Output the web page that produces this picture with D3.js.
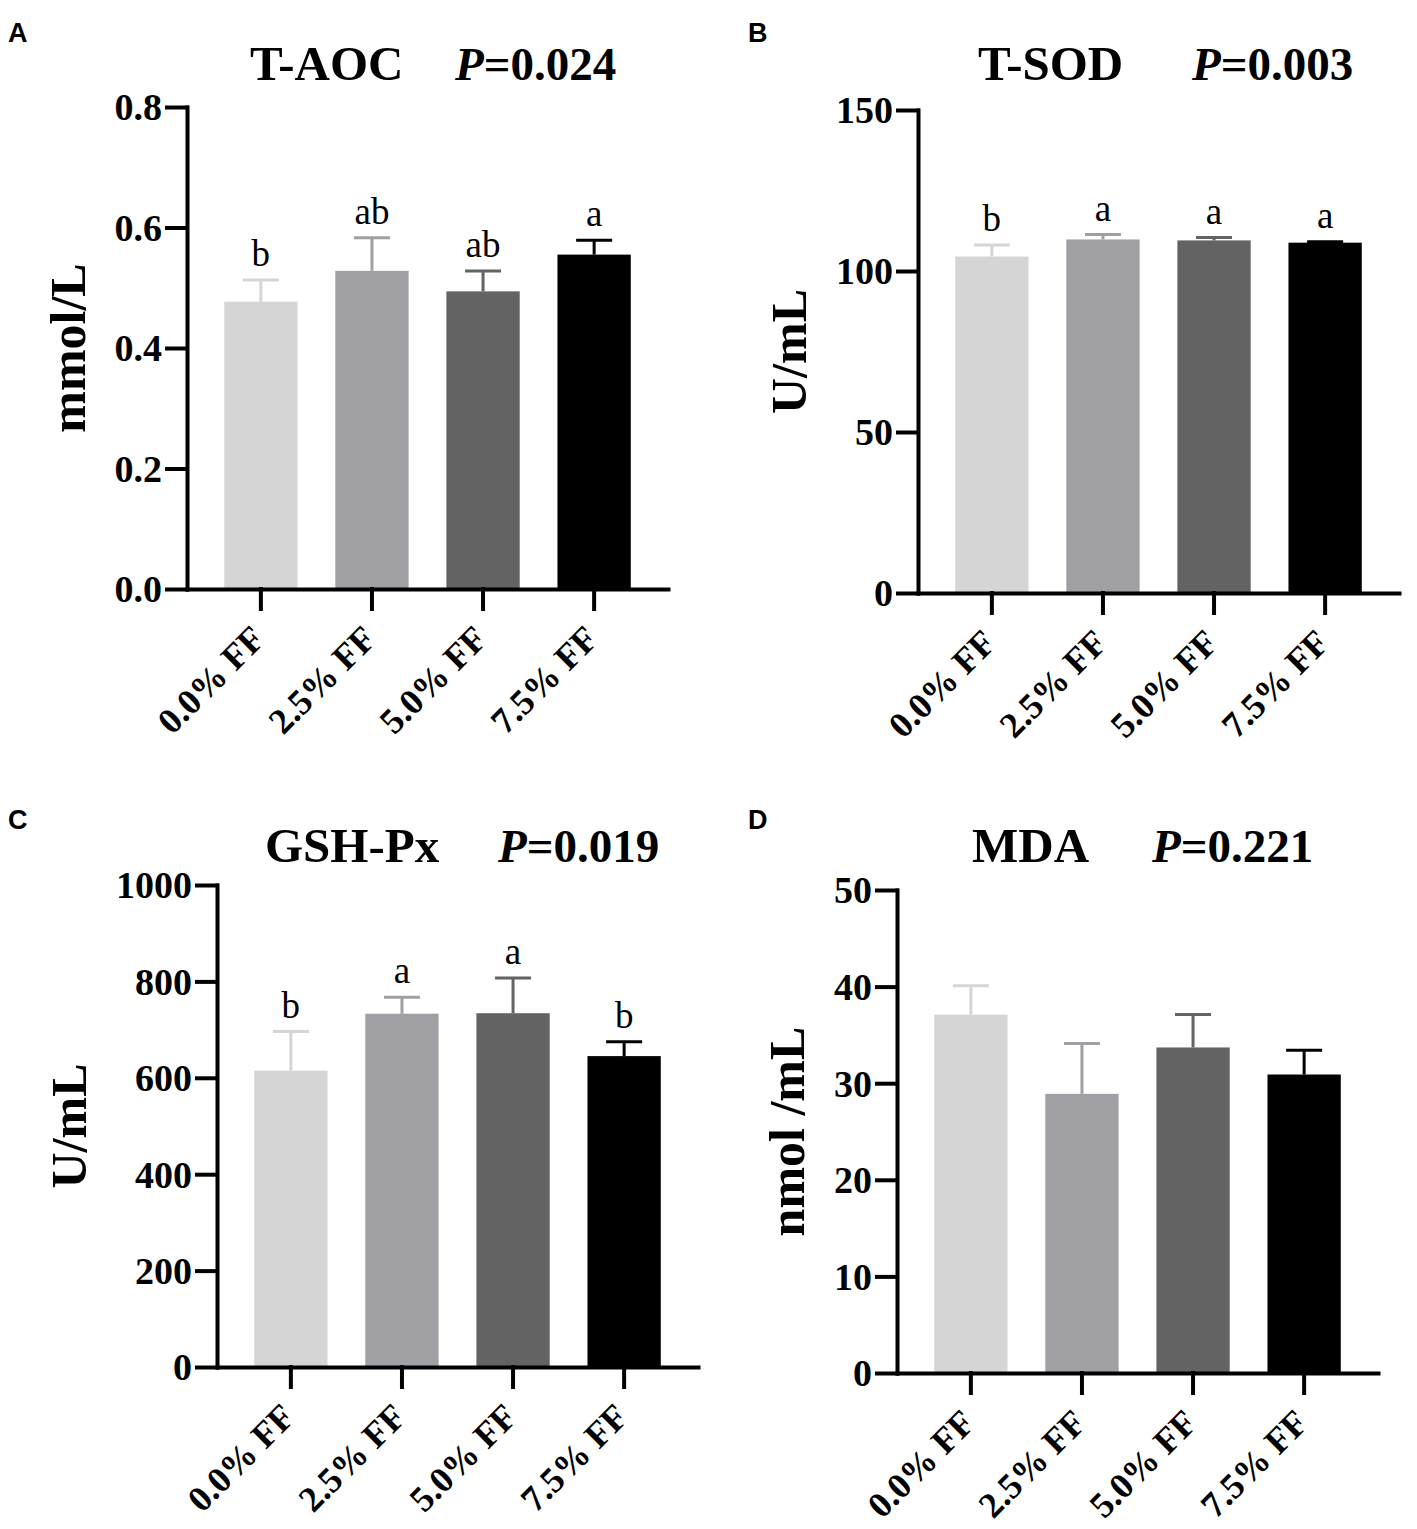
<!doctype html>
<html lang="en">
<head>
<meta charset="utf-8">
<style>
  body { margin: 0; background: #fff; }
  svg { display: block; }
  .serif { font-family: "Liberation Serif", "Times New Roman", serif; }
</style>
</head>
<body>
<div id="grafico"></div>
<script src="https://d3js.org/d3.v7.min.js"></script>
<script>

// grupos y colores de las barras
var groups = ["0.0% FF", "2.5% FF", "5.0% FF", "7.5% FF"];
var barColors = ["#d5d5d5", "#a0a0a4", "#636363", "#000000"];

// A - T-AOC
var taocMean = [0.477, 0.528, 0.494, 0.555];
var taocSem = [0.036, 0.055, 0.034, 0.024];
var taocLetters = ["b", "ab", "ab", "a"];
var taocTicks = [0, 0.2, 0.4, 0.6, 0.8];

// B - T-SOD
var tsodMean = [104.5, 109.8, 109.5, 108.8];
var tsodSem = [3.6, 1.5, 0.9, 0.3];
var tsodLetters = ["b", "a", "a", "a"];
var tsodTicks = [0, 50, 100, 150];

// C - GSH-Px
var gshMean = [615, 733, 734, 645];
var gshSem = [81, 34, 73, 30];
var gshLetters = ["b", "a", "a", "b"];
var gshTicks = [0, 200, 400, 600, 800, 1000];

// D - MDA
var mdaMean = [37.1, 28.9, 33.7, 30.9];
var mdaSem = [3.0, 5.2, 3.4, 2.5];
var mdaLetters = ["", "", "", ""];
var mdaTicks = [0, 10, 20, 30, 40, 50];

var W = 1417, H = 1529;

var svg = d3.select("#grafico").append("svg")
  .attr("width", W).attr("height", H)
  .style("background", "#fff");

var panels = [
  { tag: "A", name: "T-AOC", p: "=0.024", ylab: "mmol/L", mean: taocMean, sem: taocSem, letters: taocLetters, ticks: taocTicks, fmt: d3.format(".1f"),
    x0: 187, top: 107, base: 589, tagX: 8, tagY: 42, nameX: 250, pX: 455, titleY: 80, labX: 85 },
  { tag: "B", name: "T-SOD", p: "=0.003", ylab: "U/mL", mean: tsodMean, sem: tsodSem, letters: tsodLetters, ticks: tsodTicks, fmt: d3.format("d"),
    x0: 918, top: 110, base: 593, tagX: 748, tagY: 42, nameX: 978, pX: 1192, titleY: 80, labX: 806 },
  { tag: "C", name: "GSH-Px", p: "=0.019", ylab: "U/mL", mean: gshMean, sem: gshSem, letters: gshLetters, ticks: gshTicks, fmt: d3.format("d"),
    x0: 217, top: 885, base: 1367, tagX: 8, tagY: 829, nameX: 265, pX: 498, titleY: 862, labX: 86 },
  { tag: "D", name: "MDA", p: "=0.221", ylab: "nmol /mL", mean: mdaMean, sem: mdaSem, letters: mdaLetters, ticks: mdaTicks, fmt: d3.format("d"),
    x0: 897, top: 890, base: 1373, tagX: 748, tagY: 829, nameX: 972, pX: 1152, titleY: 862, labX: 804 }
];

panels.forEach(function(p) {

  var g = svg.append("g");
  var ymax = p.ticks[p.ticks.length - 1];

  var x = d3.scaleBand().domain(groups).range([p.x0, p.x0 + 481]).paddingInner(0.34).paddingOuter(0.335);
  var y = d3.scaleLinear().domain([0, ymax]).range([p.base, p.top]);

  var data = groups.map(function(d, i) {
    return { grp: d, mean: p.mean[i], sem: p.sem[i], letter: p.letters[i], color: barColors[i] };
  });

  // barras
  g.selectAll("rect.bar").data(data).enter().append("rect")
    .attr("class", "bar")
    .attr("x", function(d) { return x(d.grp); })
    .attr("y", function(d) { return y(d.mean); })
    .attr("width", x.bandwidth())
    .attr("height", function(d) { return p.base - y(d.mean); })
    .attr("fill", function(d) { return d.color; });

  // barras de error (solo hacia arriba)
  var cx = function(d) { return x(d.grp) + x.bandwidth() / 2; };
  g.selectAll("line.err").data(data).enter().append("line")
    .attr("x1", cx).attr("x2", cx)
    .attr("y1", function(d) { return y(d.mean); })
    .attr("y2", function(d) { return y(d.mean + d.sem); })
    .attr("stroke", function(d) { return d.color; }).attr("stroke-width", 3);
  g.selectAll("line.cap").data(data).enter().append("line")
    .attr("x1", function(d) { return cx(d) - 18; }).attr("x2", function(d) { return cx(d) + 18; })
    .attr("y1", function(d) { return y(d.mean + d.sem); })
    .attr("y2", function(d) { return y(d.mean + d.sem); })
    .attr("stroke", function(d) { return d.color; }).attr("stroke-width", 3);

  // letras de significancia
  g.selectAll("text.letra").data(data).enter().append("text")
    .attr("class", "serif")
    .attr("x", cx)
    .attr("y", function(d) { return y(d.mean + d.sem) - 14; })
    .attr("text-anchor", "middle")
    .style("font-size", "37px")
    .text(function(d) { return d.letter; });

  // eje y
  var ay = g.append("g").attr("transform", "translate(" + p.x0 + ",0)")
    .call(d3.axisLeft(y).tickValues(p.ticks).tickSize(20).tickSizeOuter(0).tickPadding(5).tickFormat(p.fmt));

  // eje x
  var ax = g.append("g").attr("transform", "translate(0," + p.base + ")")
    .call(d3.axisBottom(x).tickSize(20).tickSizeOuter(0));

  [ay, ax].forEach(function(a) {
    a.selectAll("path, line").attr("stroke", "#000").attr("stroke-width", 4).attr("stroke-linecap", "square");
    a.selectAll("text").attr("fill", "#000")
      .attr("font-family", "'Liberation Serif', 'Times New Roman', serif")
      .attr("font-weight", "bold");
  });
  ay.selectAll("text").attr("font-size", 38).attr("dy", "0.34em");
  ax.selectAll("text").attr("font-size", 36)
    .attr("text-anchor", "end")
    .attr("x", 6).attr("y", 52).attr("dy", 0)
    .attr("transform", "rotate(-45 6 52)");

  // titulo
  g.append("text").attr("class", "serif")
    .attr("x", p.nameX).attr("y", p.titleY)
    .style("font-size", "49px").style("font-weight", "bold")
    .text(p.name);
  var pt = g.append("text").attr("class", "serif")
    .attr("x", p.pX).attr("y", p.titleY)
    .style("font-size", "47px").style("font-weight", "bold");
  pt.append("tspan").style("font-style", "italic").text("P");
  pt.append("tspan").text(p.p);

  // etiqueta eje y
  g.append("text").attr("class", "serif")
    .attr("transform", "translate(" + p.labX + "," + ((p.top + p.base) / 2) + ") rotate(-90)")
    .attr("text-anchor", "middle")
    .style("font-size", "50px").style("font-weight", "bold")
    .text(p.ylab);

  // letra del panel
  g.append("text")
    .attr("x", p.tagX).attr("y", p.tagY)
    .style("font-family", "'Liberation Sans', Arial, sans-serif")
    .style("font-size", "27px").style("font-weight", "bold")
    .text(p.tag);
});

</script>
</body>
</html>
